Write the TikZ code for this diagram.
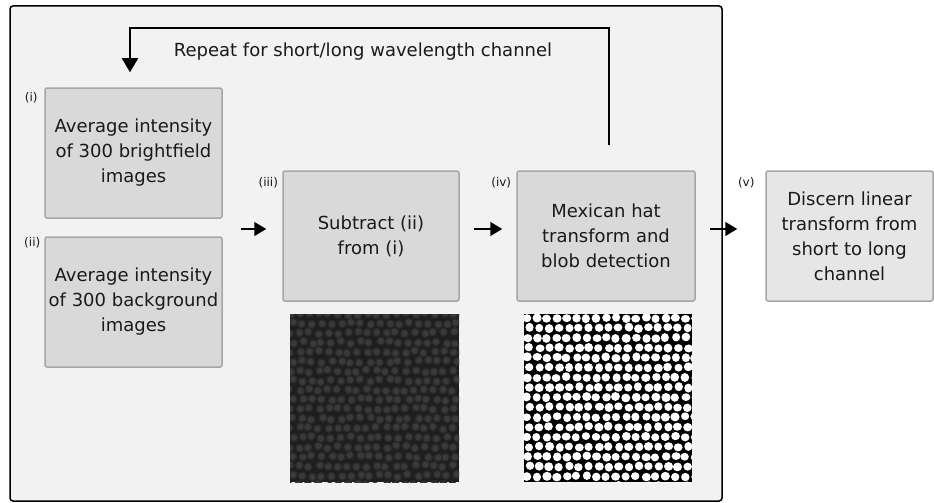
\documentclass[tikz,border=0pt]{standalone}
\usepackage{fontspec}
\setmainfont{DejaVu Sans}
\usetikzlibrary{arrows.meta}
\definecolor{panelgray}{HTML}{F2F2F2}
\definecolor{boxgray}{HTML}{D9D9D9}
\definecolor{lastgray}{HTML}{E6E6E6}
\definecolor{edgegray}{HTML}{A6A6A6}
\definecolor{textgray}{HTML}{1A1A1A}
\definecolor{imgdark}{HTML}{1E1E1E}
\definecolor{blobhalo}{HTML}{2B2B2B}
\definecolor{blobcore}{HTML}{3A3A3A}

\tikzset{
  stepbox/.style={draw=edgegray, line width=1.5pt, fill=boxgray, rounded corners=2pt,
    minimum width=177pt, minimum height=130pt, inner sep=0pt, align=center,
    font=\fontsize{18}{25}\selectfont, text=textgray},
  tag/.style={font=\fontsize{12}{14}\selectfont, text=textgray, inner sep=0pt},
  flow/.style={line width=1.5pt, -{Triangle[length=12pt,width=14pt]}},
}

\begin{document}
\begin{tikzpicture}[x=1pt,y=-1pt]
    \useasboundingbox (0,0) rectangle (934,503);
    % outer panel
    \draw[line width=1.5pt, fill=panelgray, rounded corners=3pt] (10,6) rectangle (722,501);

    % processing steps
    \node[stepbox] (avgbright) at (133.5,153) {Average intensity\\of 300 brightfield\\images};
    \node[stepbox] (avgback) at (133.5,302) {Average intensity\\of 300 background\\images};
    \node[stepbox, minimum width=176pt] (subtract) at (371,236) {Subtract (ii)\\from (i)};
    \node[stepbox, minimum width=178pt] (mexhat) at (606,236) {Mexican hat\\transform and\\blob detection};
    \node[stepbox, fill=lastgray, minimum width=167pt] (discern) at (849.5,236) {Discern linear\\transform from\\short to long\\channel};

    % step tags
    \node[tag] (tagi) at ([shift={(-13,10)}]avgbright.north west) {(i)};
    \node[tag] (tagii) at ([shift={(-12,6)}]avgback.north west) {(ii)};
    \node[tag] (tagiii) at ([shift={(-14,12)}]subtract.north west) {(iii)};
    \node[tag] (tagiv) at ([shift={(-15,12)}]mexhat.north west) {(iv)};
    \node[tag] (tagv) at ([shift={(-19,12)}]discern.north west) {(v)};

    % flow arrows
    \path (avgbright.south east) -- (avgback.north east) coordinate[pos=.5] (pairmid);
    \draw[flow] ([shift={(18,1.5)}]pairmid) -- ([shift={(-16,-7)}]subtract.west);
    \draw[flow] ([shift={(14,-7)}]subtract.east) -- ([shift={(-14,-7)}]mexhat.west);
    \draw[flow] ([shift={(14,-7)}]mexhat.east) -- ([shift={(-28,-7)}]discern.west);

    % repeat loop
    \coordinate (loopstart) at ([shift={(3,-25)}]mexhat.north);
    \coordinate (loopend) at ([shift={(-3.5,-15)}]avgbright.north);
    \draw[flow, line width=1.8pt, -{Triangle[length=14pt,width=16pt]}]
        (loopstart) -- (loopstart |- 0,28) -- (loopend |- 0,28) -- (loopend);
    \node[font=\fontsize{18}{21}\selectfont, text=textgray] (repeat) at (363,52) {Repeat for short/long wavelength channel};

    % subtracted image
    \begin{scope}
        \clip (290,314) rectangle (459,482);
        \fill[imgdark] (290,314) rectangle (459,482);
        \pgfmathsetseed{11}
        \foreach \row in {0,...,18}{
            \foreach \col in {0,...,18}{
                \pgfmathsetmacro{\bx}{290+\col*9.6+mod(\row,2)*3+1.5*rand}
                \pgfmathsetmacro{\by}{314+\row*9.5+1.5*rand}
                \fill[blobhalo] (\bx,\by) circle[radius=4.5];
                \fill[blobcore] (\bx,\by) circle[radius=3];
            }
        }
    \end{scope}

    % blob detection image
    \begin{scope}
        \clip (524,314) rectangle (692,482);
        \fill[black] (524,314) rectangle (692,482);
        \pgfmathsetseed{7}
        \foreach \row in {0,...,17}{
            \foreach \col in {0,...,17}{
                \pgfmathsetmacro{\bx}{527+\col*9.9+mod(\row,2)*2.5+0.8*rand}
                \pgfmathsetmacro{\by}{318+\row*9.9+0.8*rand}
                \pgfmathsetmacro{\rx}{4.3+0.35*rand}
                \pgfmathsetmacro{\ry}{4.2+0.35*rand}
                \fill[white] (\bx,\by) ellipse[x radius=\rx, y radius=\ry];
            }
        }
    \end{scope}
\end{tikzpicture}
\end{document}
